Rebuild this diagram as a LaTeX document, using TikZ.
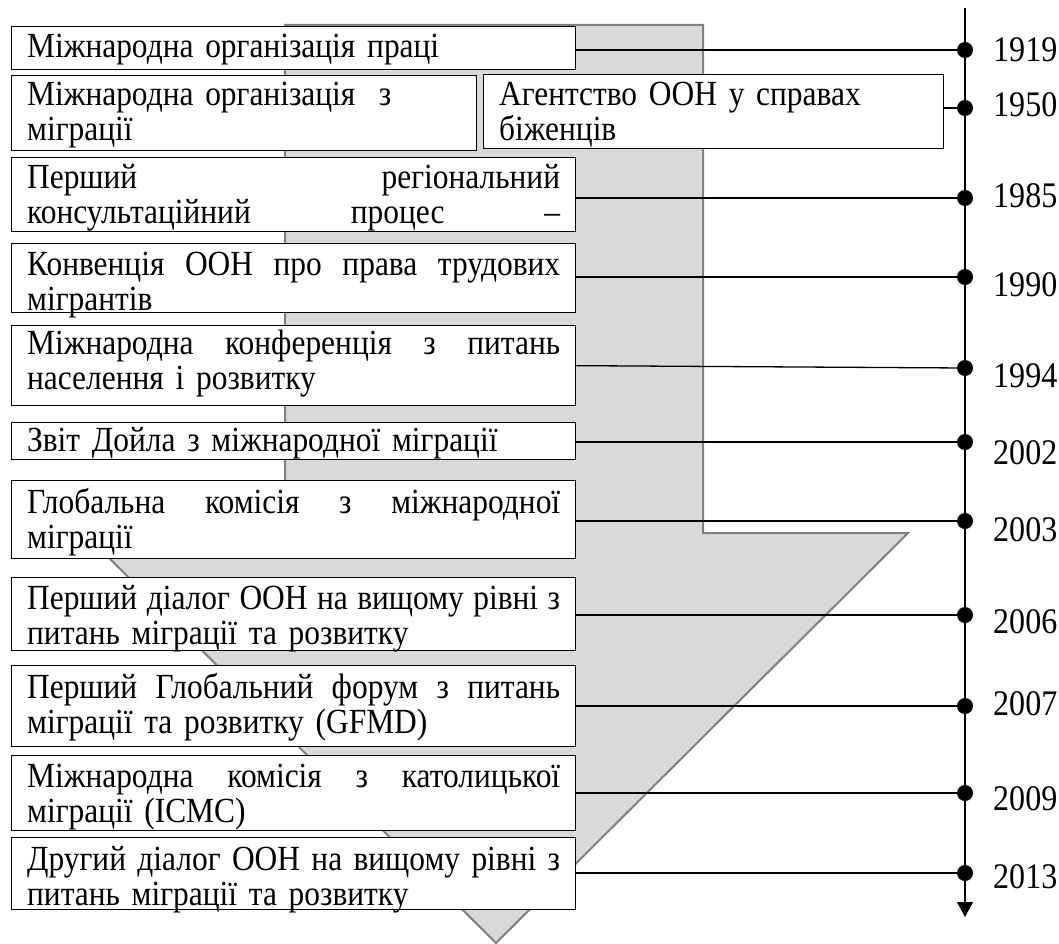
\documentclass[tikz,border=0pt]{standalone}
\usepackage{fontspec}
\setmainfont{Liberation Serif}[FakeStretch=0.89]
\usetikzlibrary{arrows.meta}
\definecolor{arrowfill}{RGB}{217,217,217}
\definecolor{arrowline}{RGB}{128,128,128}
\newcommand{\jline}[1]{\hbox to 533pt{#1}}
\begin{document}
\begin{tikzpicture}[x=1pt,y=-1pt,
  txt/.style={font=\fontsize{35.3pt}{35pt}\selectfont},
  evbox/.style={txt,draw=black,line width=1.3pt,fill=white,anchor=north west,
    inner xsep=15.5pt,inner ysep=0pt,align=left},
  tdot/.style={circle,fill=black,inner sep=0pt,minimum size=16pt},
  year/.style={font=\fontsize{36pt}{36pt}\selectfont,anchor=base west,inner sep=0pt},
  conn/.style={draw=black,line width=1.3pt}]
\useasboundingbox (0,0) rectangle (1059,944);
% big grey arrow
\filldraw[fill=arrowfill,draw=arrowline,line width=2pt,line join=miter]
  (285,25) -- (703,25) -- (703,533) -- (908,533) -- (496,943) -- (84,533) -- (285,533) -- cycle;
% timeline
\coordinate (ttop) at (965,8);
\coordinate (tbot) at (965,917);
\draw[line width=1.3pt,-{Triangle[width=16pt,length=15pt]}] (ttop) -- (tbot);
% boxes
\node[evbox,text width=533pt,text height=31pt,text depth=12pt] (b1) at (11,26)
  {Міжнародна організація праці};
\node[evbox,text width=434pt,text height=30pt,text depth=45pt] (b2a) at (11,75)
  {Міжнародна організація\ \ з\\міграції};
\node[evbox,text width=429pt,text height=31pt,text depth=43pt] (b2b) at (483,74)
  {Агентство ООН у справах\\біженців};
\node[evbox,text width=533pt,text height=30.5pt,text depth=43.5pt] (b3) at (11,157)
  {\jline{Перший\hfill регіональний}\\\jline{консультаційний\hfill процес\hfill –}};
\node[evbox,text width=533pt,text height=32pt,text depth=37pt] (b4) at (11,243)
  {\jline{Конвенція\hfill ООН\hfill про\hfill права\hfill трудових}\\мігрантів};
\node[evbox,text width=533pt,text height=29pt,text depth=51pt] (b5) at (11,325)
  {\jline{Міжнародна\hfill конференція\hfill з\hfill питань}\\населення і розвитку};
\node[evbox,text width=533pt,text height=29pt,text depth=8pt] (b6) at (11,422)
  {Звіт Дойла з міжнародної міграції};
\node[evbox,text width=533pt,text height=33pt,text depth=45pt] (b7) at (11,480)
  {\jline{Глобальна\hfill комісія\hfill з\hfill міжнародної}\\міграції};
\node[evbox,text width=533pt,text height=32pt,text depth=41pt] (b8) at (11,577)
  {\jline{Перший\hfill діалог\hfill ООН\hfill на\hfill вищому\hfill рівні\hfill з}\\питань міграції та розвитку};
\node[evbox,text width=533pt,text height=33pt,text depth=48pt] (b9) at (11,665)
  {\jline{Перший\hfill Глобальний\hfill форум\hfill з\hfill питань}\\міграції та розвитку (GFMD)};
\node[evbox,text width=533pt,text height=32pt,text depth=43pt] (b10) at (11,755)
  {\jline{Міжнародна\hfill комісія\hfill з\hfill католицької}\\міграції (ICMC)};
\node[evbox,text width=533pt,text height=33pt,text depth=39pt] (b11) at (11,837)
  {\jline{Другий\hfill діалог\hfill ООН\hfill на\hfill вищому\hfill рівні\hfill з}\\питань міграції та розвитку};
% dots
\node[tdot] (d1) at (965,50) {};
\node[tdot] (d2) at (965,108) {};
\node[tdot] (d3) at (965,198) {};
\node[tdot] (d4) at (965,277) {};
\node[tdot] (d5) at (965,368) {};
\node[tdot] (d6) at (965,442) {};
\node[tdot] (d7) at (965,521) {};
\node[tdot] (d8) at (965,615) {};
\node[tdot] (d9) at (965,706) {};
\node[tdot] (d10) at (965,793) {};
\node[tdot] (d11) at (965,873) {};
% connectors
\path[conn] (b1.east |- d1) -- (d1.center);
\path[conn] (b2b.east |- d2) -- (d2.center);
\path[conn] (b3.east |- d3) -- (d3.center);
\path[conn] (b4.east |- d4) -- (d4.center);
\path[conn] (b5.east) -- (d5.center);
\path[conn] (b6.east |- d6) -- (d6.center);
\path[conn] (b7.east |- d7) -- (d7.center);
\path[conn] (b8.east |- d8) -- (d8.center);
\path[conn] (b9.east |- d9) -- (d9.center);
\path[conn] (b10.east |- d10) -- (d10.center);
\path[conn] (b11.east |- d11) -- (d11.center);
% years
\node[year] (y1) at (993,62) {1919};
\node[year] (y2) at (993,117) {1950};
\node[year] (y3) at (993,207) {1985};
\node[year] (y4) at (993,296) {1990};
\node[year] (y5) at (993,387) {1994};
\node[year] (y6) at (993,464) {2002};
\node[year] (y7) at (993,541) {2003};
\node[year] (y8) at (993,633) {2006};
\node[year] (y9) at (993,715) {2007};
\node[year] (y10) at (993,810) {2009};
\node[year] (y11) at (993,888) {2013};
\end{tikzpicture}
\end{document}
